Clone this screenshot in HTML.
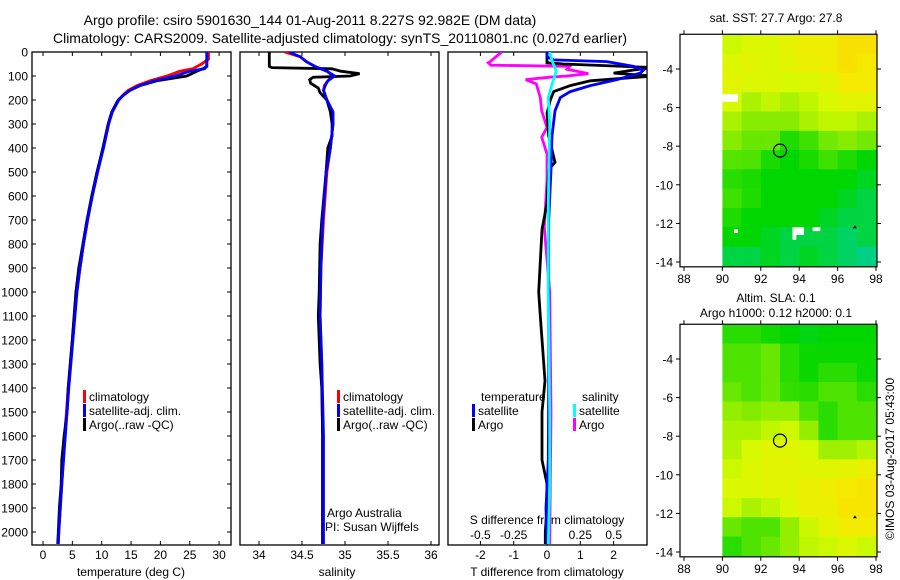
<!DOCTYPE html>
<html><head><meta charset="utf-8"><style>
body{margin:0;background:#fff;}
svg{display:block;font-family:"Liberation Sans",sans-serif;}
text{fill:#000;}
</style></head><body>
<svg id="fig" width="900" height="580" viewBox="0 0 900 580" xmlns="http://www.w3.org/2000/svg">
<text x="310" y="25" font-size="14" text-anchor="middle">Argo profile: csiro 5901630_144 01-Aug-2011 8.227S 92.982E (DM data)</text>
<text x="340" y="43" font-size="14" text-anchor="middle">Climatology: CARS2009. Satellite-adjusted climatology: synTS_20110801.nc (0.027d earlier)</text>
<text x="776" y="22" font-size="12" text-anchor="middle">sat. SST: 27.7 Argo: 27.8</text>
<text x="776" y="302" font-size="12" text-anchor="middle">Altim. SLA: 0.1</text>
<text x="776" y="317" font-size="12" text-anchor="middle">Argo h1000: 0.12 h2000: 0.1</text>
<text x="0" y="0" font-size="12" text-anchor="middle" transform="translate(894,459) rotate(-90)">©IMOS 03-Aug-2017 05:43:00</text>
<g id="g"></g>
</svg>
<script>
// ---- data ----
const depthTicks=[0,100,200,300,400,500,600,700,800,900,1000,1100,1200,1300,1400,1500,1600,1700,1800,1900,2000];
const tempTicks=[0,5,10,15,20,25,30];
const salTicks=[34,34.5,35,35.5,36];
const salTickLabels=["34","34.5","35","35.5","36"];
const tdiffTicks=[-2,-1,0,1,2];
const sdiffTicks=[-0.5,-0.25,0,0.25,0.5];
const sdiffLabels=["-0.5","-0.25","0","0.25","0.5"];
const lonTicks=[88,90,92,94,96,98];
const latTicks=[-4,-6,-8,-10,-12,-14];

const tArgoDepth=[0,20,40,60,70,80,100,120,140,160,180,200,250,300,400,500,600,700,800,900,1000,1200,1400,1500,1600,1700,1800,1900,2000,2050];
const tArgo=[27.9,27.9,27.9,27.9,27.2,26.2,24.5,19.4,16.5,14.8,13.7,12.8,11.7,11.1,10.2,9.2,8.3,7.5,6.8,6.1,5.6,5.0,4.3,4.1,3.6,3.2,3.1,2.8,2.6,2.5];
const tClimDepth=[0,30,50,70,80,100,120,140,160,180,200,250,300,400,500,600,700,800,900,1000,1200,1400,1600,1800,2000,2050];
const tClim=[28.2,28.2,27.0,25.5,23.3,21.1,18.2,16.0,14.5,13.6,12.9,11.8,11.1,10.2,9.3,8.4,7.6,6.9,6.3,5.7,5.0,4.3,3.7,3.2,2.7,2.6];
const tSatDepth=[0,60,70,80,100,120,140,160,180,200,250,300,400,500,600,700,800,900,1000,1200,1400,1600,1800,2000,2050];
const tSat=[27.9,27.9,27.5,25.0,22.5,19.0,16.5,14.8,13.7,12.9,11.8,11.2,10.3,9.3,8.4,7.6,6.9,6.3,5.8,5.1,4.4,3.8,3.2,2.7,2.6];

const sArgoDepth=[0,60,65,70,80,90,100,105,115,130,150,170,200,250,300,350,400,500,700,800,1000,1100,1300,1400,1600,1800,2000,2050];
const sArgo=[34.12,34.12,34.15,34.85,34.95,35.17,35.06,34.63,34.59,34.6,34.69,34.71,34.79,34.83,34.85,34.85,34.8,34.78,34.73,34.71,34.7,34.69,34.71,34.73,34.74,34.74,34.74,34.74];
const sClimDepth=[0,20,40,60,80,100,120,140,160,200,250,300,400,500,700,900,1100,1300,1600,2000,2050];
const sClim=[34.3,34.48,34.55,34.65,34.79,34.86,34.8,34.76,34.75,34.79,34.86,34.86,34.83,34.79,34.75,34.72,34.71,34.73,34.74,34.74,34.74];
const sSat=[34.35,34.48,34.55,34.65,34.79,34.88,34.8,34.77,34.75,34.79,34.86,34.86,34.83,34.78,34.74,34.72,34.71,34.73,34.75,34.75,34.75];

const dTSatDepth=[0,20,33,40,60,75,88,115,140,165,190,245,350,490,700,1000,1400,1700,1900,2050];
const dTSat=[0,0,0.2,1.8,2.6,2.9,2.8,2.1,1.3,0.7,0.4,0.24,0.15,0.12,0.05,0.05,0.05,0.04,-0.03,0];
const dTArgoDepth=[0,45,50,65,75,88,100,120,140,165,200,255,350,460,490,630,740,1000,1100,1370,1500,1700,1800,1900,2000,2050];
const dTArgo=[0,0,0.5,3.2,2.6,2.0,3.2,1.3,0.7,0.2,0.1,0,0.05,0.24,0.05,0,-0.15,-0.25,-0.2,-0.06,-0.15,-0.15,0,0,-0.05,-0.05];
const dSArgoDepth=[0,42,45,55,60,72,90,100,105,115,133,190,245,315,355,425,535,730,1000,1500,2050];
const dSArgo=[-0.34,-0.43,-0.44,-0.42,0.17,0.15,0.31,0.15,0.02,-0.16,-0.08,-0.05,-0.04,0,-0.04,0,0,-0.02,0.02,0.03,0.02];
const dSSatDepth=[0,40,80,130,190,300,630,1000,1500,1800,2050];
const dSSat=[0.02,0.04,0.07,0.04,0.01,0.02,0.01,0.01,0.02,0.02,0.01];

const sstGrid=[
[0.68,0.72,0.72,0.77,0.82,0.82,0.9,0.9],
[0.72,0.76,0.72,0.76,0.8,0.82,0.9,0.86],
[0.75,0.72,0.72,0.7,0.72,0.76,0.85,0.85],
[0.7,0.62,0.66,0.62,0.66,0.7,0.76,0.76],
[0.62,0.56,0.56,0.56,0.62,0.66,0.66,0.62],
[0.56,0.5,0.5,0.36,0.42,0.52,0.56,0.52],
[0.46,0.45,0.35,0.3,0.35,0.42,0.36,0.3],
[0.38,0.35,0.3,0.3,0.3,0.3,0.3,0.25],
[0.42,0.36,0.3,0.3,0.3,0.3,0.25,0.2],
[0.36,0.3,0.3,0.3,0.3,0.25,0.2,0.2],
[0.3,0.3,0.25,0.2,0.2,0.2,0.15,0.2],
[0.2,0.2,0.25,0.2,0.25,0.2,0.15,0.1]];
const slaGrid=[
[0.38,0.38,0.33,0.3,0.27,0.3,0.3,0.3],
[0.45,0.45,0.5,0.38,0.32,0.32,0.32,0.32],
[0.45,0.45,0.5,0.38,0.32,0.38,0.38,0.32],
[0.5,0.45,0.5,0.4,0.38,0.45,0.45,0.38],
[0.58,0.55,0.58,0.58,0.45,0.38,0.45,0.45],
[0.62,0.62,0.66,0.68,0.58,0.38,0.45,0.45],
[0.64,0.7,0.74,0.74,0.7,0.6,0.6,0.64],
[0.68,0.72,0.76,0.76,0.74,0.74,0.76,0.8],
[0.72,0.72,0.76,0.76,0.8,0.82,0.86,0.88],
[0.68,0.62,0.66,0.72,0.8,0.8,0.88,0.88],
[0.5,0.45,0.45,0.58,0.68,0.76,0.84,0.84],
[0.38,0.45,0.5,0.58,0.66,0.68,0.72,0.68]];
const floatLon=93.0, floatLat=-8.23;

// ---- layout / scales ----
const NS="http://www.w3.org/2000/svg";
const G=document.getElementById('g');
const yD=d=>52+d*0.24;
const xT=t=>43+t*5.87;
const xS=s=>259+(s-34)*86;
const xDT=t=>547+t*33.3;
const xDS=s=>547+s*133.4;
function mk(tag,attrs,parent){const e=document.createElementNS(NS,tag);for(const k in attrs)e.setAttribute(k,attrs[k]);(parent||G).appendChild(e);return e;}
function txt(x,y,s,anchor,size){const e=mk('text',{x:x,y:y,'font-size':size||12,'text-anchor':anchor||'middle'});e.textContent=s;return e;}
function line(xf,vals,depths,color,clipId){
  const pts=vals.map((v,i)=>xf(v).toFixed(1)+','+yD(depths[i]).toFixed(1)).join(' ');
  return mk('polyline',{points:pts,fill:'none',stroke:color,'stroke-width':2.8,'stroke-linejoin':'miter','clip-path':'url(#'+clipId+')'});
}
const defs=mk('defs',{});
function clip(id,x,y,w,h){const c=mk('clipPath',{id:id},defs);mk('rect',{x:x,y:y,width:w,height:h},c);}
clip('c1',32,52,199,493);clip('c2',240,52,199,493);clip('c3',448,52,199,493);
clip('m1',680,34,197,233);clip('m2',680,325,197,232);

const p1=mk('rect',{x:32,y:52,width:199,height:493,fill:'none',stroke:'#000','stroke-width':1.3});


const p2=mk('rect',{x:240,y:52,width:199,height:493,fill:'none',stroke:'#000','stroke-width':1.3});


const p3=mk('rect',{x:448,y:52,width:199,height:493,fill:'none',stroke:'#000','stroke-width':1.3});



depthTicks.forEach(d=>{
  const y=yD(d);
  mk('line',{x1:32,y1:y,x2:36,y2:y,stroke:'#000'});
  mk('line',{x1:227,y1:y,x2:231,y2:y,stroke:'#000'});
  const t=txt(28,y+4.5,String(d),'end',12);
  
  
});
tempTicks.forEach(v=>{
  const x=xT(v);
  mk('line',{x1:x,y1:52,x2:x,y2:56,stroke:'#000'});
  mk('line',{x1:x,y1:541,x2:x,y2:545,stroke:'#000'});
  const t=txt(x,559,String(v));
  
  
});
salTicks.forEach((v,i)=>{
  const x=xS(v);
  mk('line',{x1:x,y1:52,x2:x,y2:56,stroke:'#000'});
  mk('line',{x1:x,y1:541,x2:x,y2:545,stroke:'#000'});
  const t=txt(x,559,salTickLabels[i]);
  
  
});
tdiffTicks.forEach(v=>{
  const x=xDT(v);
  mk('line',{x1:x,y1:52,x2:x,y2:56,stroke:'#000'});
  mk('line',{x1:x,y1:541,x2:x,y2:545,stroke:'#000'});
  const t=txt(x,559,String(v));
  
  
});
sdiffTicks.forEach((v,i)=>{
  const t=txt(xDS(v),539,sdiffLabels[i]);
  
  
});
let a=txt(131,576,'temperature (deg C)');


a=txt(337,576,'salinity');


a=txt(547,576,'T difference from climatology');


a=txt(547,524,'S difference from climatology');



let s=line(xT,tClim,tClimDepth,'#ff0000','c1');


s=line(xT,tArgo,tArgoDepth,'#000','c1');


s=line(xT,tSat,tSatDepth,'#0000ff','c1');


s=line(xS,sClim,sClimDepth,'#ff0000','c2');


s=line(xS,sArgo,sArgoDepth,'#000','c2');


s=line(xS,sSat,sClimDepth,'#0000ff','c2');


s=line(xDS,dSArgo,dSArgoDepth,'#ff00ff','c3');


s=line(xDT,dTArgo,dTArgoDepth,'#000','c3');


s=line(xDT,dTSat,dTSatDepth,'#0000ff','c3');


s=line(xDS,dSSat,dSSatDepth,'#00ffff','c3');



function leg(x,y,color,label){
  mk('rect',{x:x,y:y-11,width:3,height:13,fill:color});
  return txt(x+6,y,label,'start',12);
}
let l;
l=leg(83,401,'#ff0000','climatology');
l=leg(83,415,'#0000ff','satellite-adj. clim.');
l=leg(83,429,'#000','Argo(..raw -QC)');
l=leg(337,401,'#ff0000','climatology');
l=leg(337,415,'#0000ff','satellite-adj. clim.');
l=leg(337,429,'#000','Argo(..raw -QC)');
l=txt(481,401,'temperature','start',12);
l=txt(582,401,'salinity','start',12);
l=leg(472,415,'#0000ff','satellite');
l=leg(472,429,'#000','Argo');
l=leg(573,415,'#00ffff','satellite');
l=leg(573,429,'#ff00ff','Argo');
l=txt(327,517,'Argo Australia','start',12);
l=txt(325,531,'PI: Susan Wijffels','start',12);

function cmap(v){
  const st=[[0,[0,205,200]],[0.3,[0,215,0]],[0.55,[130,235,0]],[0.7,[215,250,0]],[0.85,[245,235,0]],[1,[255,205,0]]];
  for(let i=1;i<st.length;i++){if(v<=st[i][0]){const f=(v-st[i-1][0])/(st[i][0]-st[i-1][0]);const c=st[i-1][1].map((a,k)=>Math.round(a+(st[i][1][k]-a)*f));return 'rgb('+c+')';}}
  return 'rgb(255,205,0)';
}
function drawMap(grid,top,clipId,name){
  const xL=lon=>684+(lon-88)*19.2;
  const yL=lat=>top+(-4-lat)*19.3;
  const gg=mk('g',{'clip-path':'url(#'+clipId+')'});
  grid.forEach((row,r)=>row.forEach((v,c)=>{
    const x=xL(90+c),y=yL(-2.2-r);
    const cell=mk('rect',{x:x,y:y,width:19.8,height:(r==grid.length-1?40:19.9),fill:cmap(v)},gg);
    
    
  }));
  const fr=mk('rect',{x:680,y:yL(-2.2),width:197,height:yL(-14.25)-yL(-2.2),fill:'none',stroke:'#000','stroke-width':1.2});
  
  
  const yb=yL(-14.25);
  lonTicks.forEach(v=>{const x=xL(v);mk('line',{x1:x,y1:yL(-2.2),x2:x,y2:yL(-2.2)-4,stroke:'#000'});mk('line',{x1:x,y1:yb,x2:x,y2:yb+4,stroke:'#000'});
    const t=txt(x,yb+16,String(v));});
  latTicks.forEach(v=>{const y=yL(v);mk('line',{x1:680,y1:y,x2:676,y2:y,stroke:'#000'});mk('line',{x1:877,y1:y,x2:881,y2:y,stroke:'#000'});
    const t=txt(673,y+4.5,String(v),'end');});
  const c=mk('circle',{cx:xL(floatLon),cy:yL(floatLat),r:6.5,fill:'none',stroke:'#000','stroke-width':1.2});
  
  
  const tr=mk('polygon',{points:[xL(96.9)-2,yL(-12.25),xL(96.9)+2,yL(-12.25),xL(96.9),yL(-12.1)].join(' '),fill:'#000'});
  
  
  return {xL,yL,gg};
}
const m1=drawMap(sstGrid,69,'m1','sst-map');
[[90,-5.3,0.8,0.4],[93.65,-12.2,0.6,0.4],[93.65,-12.6,0.2,0.25],[94.7,-12.2,0.4,0.2],[90.6,-12.3,0.2,0.2]].forEach(p=>{
  const w=mk('rect',{x:m1.xL(p[0]),y:m1.yL(p[1]),width:p[2]*19.2,height:p[3]*19.3,fill:'#fff'},m1.gg);
  
  
});
drawMap(slaGrid,359,'m2','sla-map');
</script>
</body></html>
